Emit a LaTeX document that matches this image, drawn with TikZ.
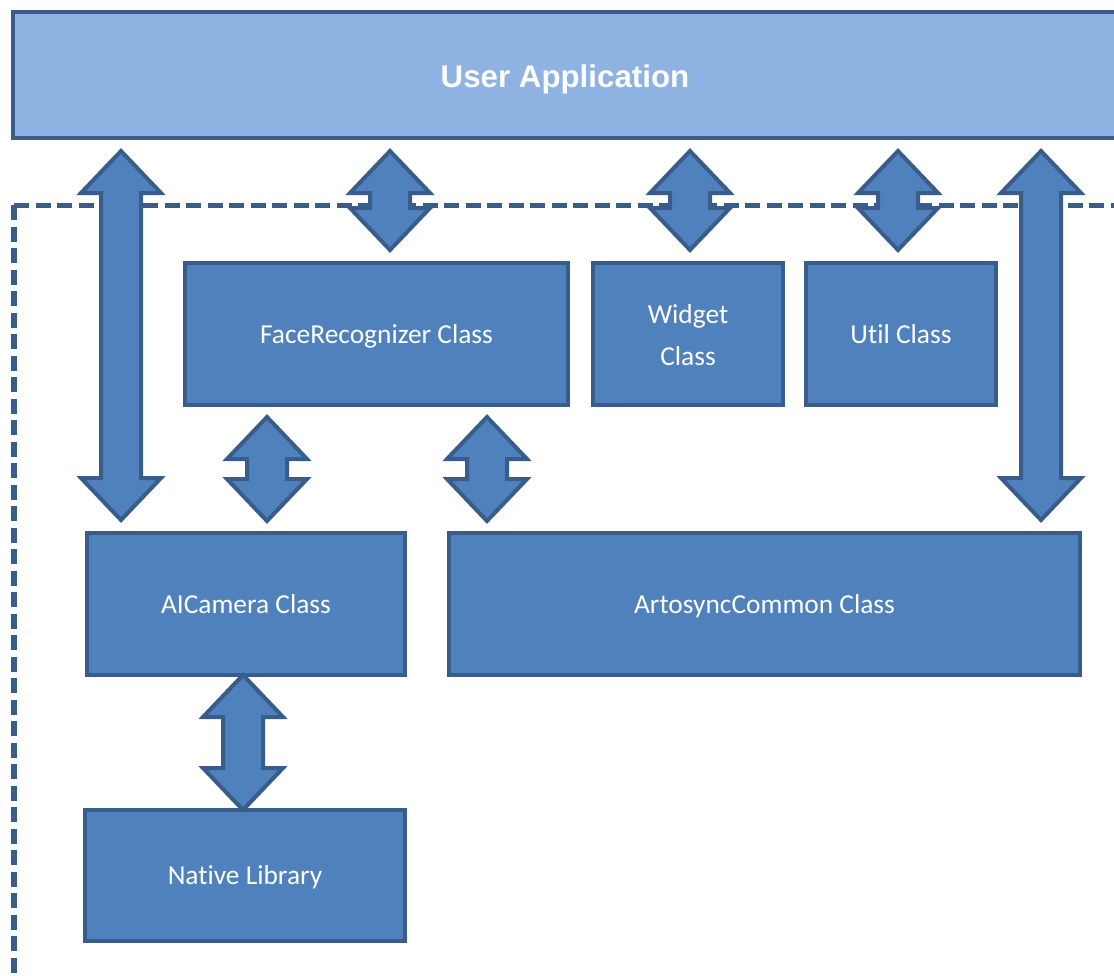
\documentclass[tikz,border=0pt]{standalone}
\usepackage{fontspec}
\setmainfont{Carlito}[Ligatures=NoCommon]
\newfontfamily\headfont{Liberation Sans}
\usetikzlibrary{calc}
\definecolor{boxblue}{RGB}{79, 129, 189}
\definecolor{boxedge}{RGB}{56, 93, 138}
\definecolor{applight}{RGB}{142, 178, 226}

\tikzset{
  appbox/.style   ={draw=boxedge, fill=applight, line width=0.08cm, text=white,
                    minimum width=22.08cm, minimum height=2.52cm,
                    text height=0.62cm, text depth=0.13cm,
                    font=\headfont\bfseries\fontsize{17.8}{20}\selectfont},
  classbox/.style ={draw=boxedge, fill=boxblue, line width=0.08cm, text=white,
                    minimum height=2.84cm, inner sep=0pt, align=center,
                    text height=0.475cm, text depth=0.105cm,
                    font=\fontsize{15.6}{24}\selectfont},
  blockarrow/.style={draw=boxedge, fill=boxblue, line width=0.08cm, line join=miter},
  framedash/.style={draw=boxedge, line width=0.10cm, dash pattern=on 0.30cm off 0.13cm},
}

% double block arrow at x between two nodes: x, upper node, lower node, gap
\newcommand{\linkarrow}[4]{%
  \path let \p1=(#2.south), \p2=(#3.north) in
    coordinate (tipa) at (#1,\y1-#4) coordinate (tipb) at (#1,\y2+#4);
  \draw[blockarrow] (tipa) -- ($(tipa)+(-0.80,-0.84)$) -- ($(tipa)+(-0.40,-0.84)$)
    -- ($(tipb)+(-0.40,0.84)$) -- ($(tipb)+(-0.80,0.84)$) -- (tipb)
    -- ($(tipb)+(0.80,0.84)$) -- ($(tipb)+(0.40,0.84)$)
    -- ($(tipa)+(0.40,-0.84)$) -- ($(tipa)+(0.80,-0.84)$) -- cycle;
}

\begin{document}
\begin{tikzpicture}
  \useasboundingbox (0,0) rectangle (22.28,-19.50);

  % layers
  \node[appbox]                    (app)    at (11.30,-1.50)  {User Application};
  \draw[framedash] (0.28,-4.10) -- (22.60,-4.10);
  \draw[framedash] (0.28,-4.10) -- (0.28,-19.80);

  \node[classbox, minimum width=7.66cm]  (face)   at (7.53,-6.68)   {FaceRecognizer Class};
  \node[classbox, minimum width=3.80cm, text height={}, text depth={}]
                                         (widget) at (13.76,-6.68)  {\rule{0pt}{0.44cm}Widget\\Class};
  \node[classbox, minimum width=3.80cm]  (util)   at (18.02,-6.68)  {Util Class};
  \node[classbox, minimum width=6.36cm]  (camera) at (4.92,-12.08)  {AICamera Class};
  \node[classbox, minimum width=12.62cm] (common) at (15.29,-12.08) {ArtosyncCommon Class};
  \node[classbox, minimum width=6.40cm, minimum height=2.62cm]
                                         (native) at (4.90,-17.51)  {Native Library};

  % links
  \linkarrow{2.42cm}{app}{camera}{0.22cm}
  \linkarrow{7.80cm}{app}{face}{0.22cm}
  \linkarrow{13.80cm}{app}{widget}{0.22cm}
  \linkarrow{17.96cm}{app}{util}{0.22cm}
  \linkarrow{20.82cm}{app}{common}{0.22cm}
  \linkarrow{5.34cm}{face}{camera}{0.20cm}
  \linkarrow{9.74cm}{face}{common}{0.20cm}
  \linkarrow{4.86cm}{camera}{native}{-0.04cm}
\end{tikzpicture}
\end{document}
